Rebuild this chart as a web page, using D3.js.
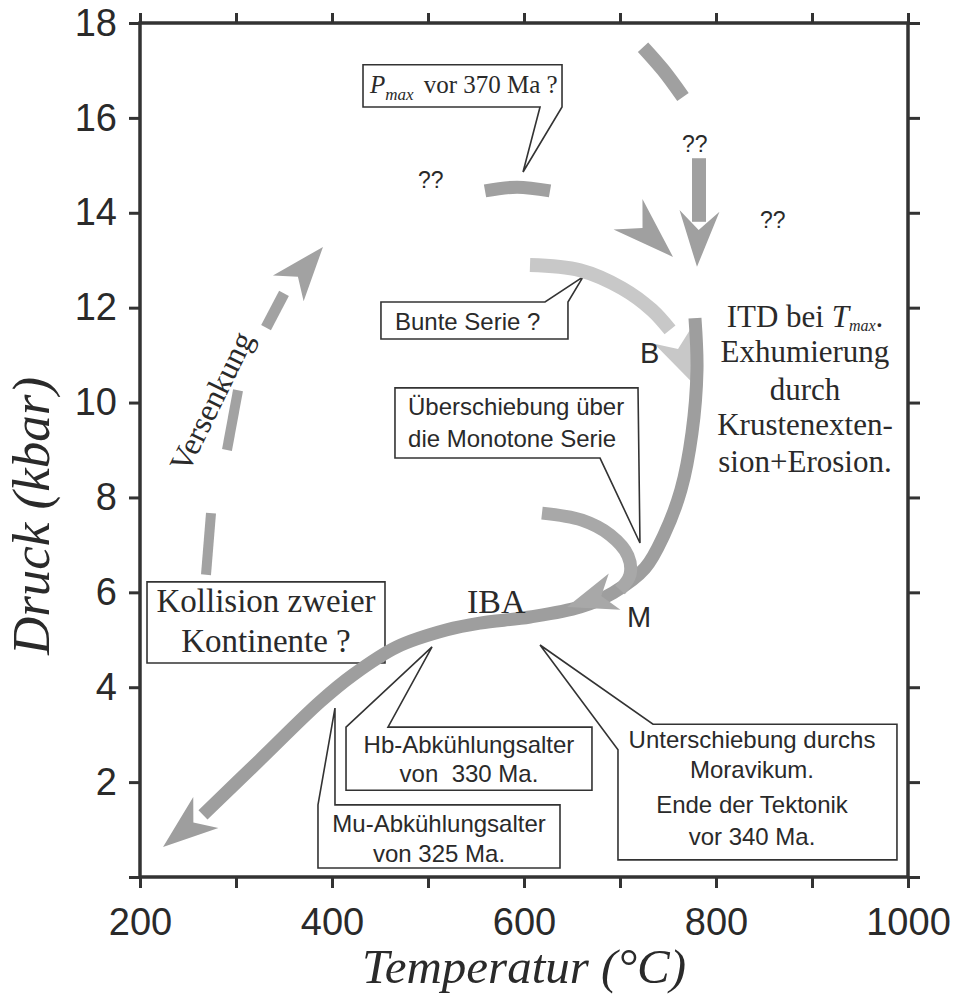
<!DOCTYPE html>
<html>
<head>
<meta charset="utf-8">
<script src="https://cdn.jsdelivr.net/npm/d3@7"></script>
<style>
body{margin:0;background:#fff}
svg{display:block}
</style>
</head>
<body>
<svg id="chart"></svg>
<script>

// axes
var tempTicks = d3.range(200, 1001, 100);
var tempLabels = [200, 400, 600, 800, 1000];
var pressTicks = d3.range(0, 19, 2);
var pressLabels = [2, 4, 6, 8, 10, 12, 14, 16, 18];

// P-T paths, [Temperatur, Druck]; last point of an arrow path = arrow tip
var exhumation = [[778.1,11.78],[780.2,10.69],[775,9.36],[763.5,8.16],[745.8,7.21],[726,6.51],
    [692.7,5.99],[658.3,5.69],[606.3,5.48],[554.2,5.35],[519.8,5.21],[467.7,4.85],[421.9,4.26],
    [387.5,3.69],[325,2.47],[265.6,1.31],[224,0.63]];
var ueberschiebung = [[618.75,7.67],[660.4,7.52],[689.6,7.21],[708.3,6.77],[710.4,6.37],[700,6.05],[644.8,5.69]];
var bunteSerie = [[606.25,12.9],[658.3,12.79],[702.1,12.41],[733.3,11.95],[752.1,11.53],[775,10.43]];
var versenkungDashes = [
    [[268.75,6.37],[273.96,7.67]],
    [[290.6,9.0],[302.1,10.26]]
];
var versenkungArrow = [[331.3,11.58],[350,12.3],[390.6,13.28]];
var pmaxDash = [[559.4,14.46],[592.7,14.54],[627.1,14.46]];
var topDash = [[724,17.49],[744.8,17.01],[765.6,16.44]];
var verticalArrow = [[782.3,15.15],[782.3,13.81],[780.2,12.86]];
var diagonalArrow = [[708.3,13.97],[755.2,13.07]];

// callout outlines
var pmaxBox = [[432.3,17.12],[639.6,17.12],[639.6,16.23],[599,14.86],[616.7,16.23],[432.3,16.23]];
var bunteBox = [[451,12.12],[621.9,12.12],[661.5,12.65],[645.8,12.12],[645.8,11.34],[451,11.34]];
var ueberBox = [[465.6,10.31],[718.75,10.31],[720.8,7.04],[679.2,8.83],[465.6,8.83]];
var kollisionBox = [[207.3,6.22],[455.2,6.22],[455.2,4.51],[207.3,4.51]];
var hbBox = [[504.2,4.85],[458.3,3.16],[670.8,3.16],[670.8,1.83],[414.6,1.83],[414.6,3.16]];
var muBox = [[403.1,3.56],[403.1,1.52],[637.5,1.52],[637.5,0.19],[385.4,0.19],[385.4,1.52]];
var unterBox = [[616.7,4.89],[734.4,3.22],[988.5,3.22],[988.5,0.36],[697.9,0.36],[697.9,2.68]];

// texts [text, T, P]
var bunteText = [["Bunte Serie ?", 465.6, 11.53]];
var ueberText = [["Überschiebung über", 479.2, 9.74], ["die Monotone Serie", 479.2, 9.06]];
var kollisionText = [["Kollision zweier", 331.25, 5.59], ["Kontinente ?", 331.25, 4.74]];
var hbText = [["Hb-Abkühlungsalter", 542.7, 2.61], ["von  330 Ma.", 542.7, 2.0]];
var muText = [["Mu-Abkühlungsalter", 511.5, 0.95], ["von 325 Ma.", 511.5, 0.32]];
var unterText = [["Unterschiebung durchs", 837.5, 2.72], ["Moravikum.", 837.5, 2.09],
    ["Ende der Tektonik", 837.5, 1.35], ["vor 340 Ma.", 837.5, 0.67]];
var itdText = [["Exhumierung", 892.7, 10.86], ["durch", 892.7, 10.05],
    ["Krustenexten-", 892.7, 9.32], ["sion+Erosion.", 892.7, 8.54]];
var itdFirst = [892.7, 11.59];
var pmaxAt = [439.6, 16.53];
var qqText = [["??", 489.6, 14.52], ["??", 764.6, 15.28], ["??", 845.8, 13.68]];
var letterText = [["B", 720.8, 10.83], ["M", 707.3, 5.27]];
var ibaText = [["IBA", 540.6, 5.56]];
var versenkungAt = [284.5, 9.92];

var serif = "'Liberation Serif','Times New Roman',serif";
var sans = "'Liberation Sans',Arial,sans-serif";
var ink = "#2a2a2a";

var svg = d3.select("#chart").attr("width", 962).attr("height", 996);
svg.append("rect").attr("width", 962).attr("height", 996).attr("fill", "#fff");

var x = d3.scaleLinear().domain([200, 1000]).range([140, 908]);
var y = d3.scaleLinear().domain([0, 18]).range([877, 23]);

var curve = d3.line()
    .x(function(d){ return x(d[0]); })
    .y(function(d){ return y(d[1]); })
    .curve(d3.curveCatmullRom.alpha(0.5));
var poly = d3.line()
    .x(function(d){ return x(d[0]); })
    .y(function(d){ return y(d[1]); })
    .curve(d3.curveLinearClosed);

// ---- axes ----
var fmtT = function(d){ return tempLabels.indexOf(d) >= 0 ? d : ""; };
var fmtP = function(d){ return pressLabels.indexOf(d) >= 0 ? d : ""; };

var axes = svg.append("g");
axes.append("g").attr("transform", "translate(0,877)")
    .call(d3.axisBottom(x).tickValues(tempTicks).tickSize(11).tickPadding(20).tickFormat(fmtT));
axes.append("g").attr("transform", "translate(0,23)")
    .call(d3.axisTop(x).tickValues(tempTicks).tickSize(10).tickFormat(""));
axes.append("g").attr("transform", "translate(140,0)")
    .call(d3.axisLeft(y).tickValues(pressTicks).tickSize(11).tickPadding(12).tickFormat(fmtP));
axes.append("g").attr("transform", "translate(908,0)")
    .call(d3.axisRight(y).tickValues(pressTicks).tickSize(12).tickFormat(""));

axes.selectAll(".domain").remove();
axes.selectAll(".tick line").attr("stroke", "#333").attr("stroke-width", 3);
axes.selectAll(".tick text").attr("fill", ink)
    .style("font-family", sans).style("font-size", "38px");

axes.append("rect")
    .attr("x", x(200)).attr("y", y(18))
    .attr("width", x(1000) - x(200)).attr("height", y(0) - y(18))
    .attr("fill", "none").attr("stroke", "#333").attr("stroke-width", 3.5);

svg.append("text")
    .attr("x", 524).attr("y", 983)
    .attr("text-anchor", "middle")
    .style("font-family", serif).style("font-style", "italic").style("font-size", "49px")
    .attr("fill", ink)
    .text("Temperatur (°C)");

svg.append("text")
    .attr("transform", "translate(49,516) rotate(-90)")
    .attr("text-anchor", "middle")
    .style("font-family", serif).style("font-style", "italic").style("font-size", "53px")
    .attr("fill", ink)
    .text("Druck (kbar)");

// ---- callout boxes ----
var boxes = svg.append("g");
[pmaxBox, bunteBox, ueberBox, kollisionBox, hbBox, muBox, unterBox].forEach(function(b){
    boxes.append("path")
        .attr("d", poly(b))
        .attr("fill", "#fff")
        .attr("stroke", "#333")
        .attr("stroke-width", 1.6)
        .attr("stroke-linejoin", "miter");
});

// ---- bands ----
var bands = svg.append("g");

var arrowHead = function(tip, back, len, hw, notch)
{
    var dx = tip[0] - back[0], dy = tip[1] - back[1];
    var n = Math.sqrt(dx*dx + dy*dy);
    dx /= n; dy /= n;
    var bx = tip[0] - dx*len, by = tip[1] - dy*len;
    var px = -dy, py = dx;
    return [
        [tip[0], tip[1]],
        [bx + px*hw, by + py*hw],
        [tip[0] - dx*(len - notch), tip[1] - dy*(len - notch)],
        [bx - px*hw, by - py*hw]
    ];
};

var drawBand = function(pts, width, color, head)
{
    var shaft = head ? pts.slice(0, -1) : pts;
    if (shaft.length > 1) {
        bands.append("path")
            .attr("d", curve(shaft))
            .attr("fill", "none")
            .attr("stroke", color)
            .attr("stroke-width", width)
            .attr("stroke-linecap", "butt");
    }
    if (head) {
        var a = pts[pts.length - 1], b = pts[pts.length - 2];
        var h = arrowHead([x(a[0]), y(a[1])], [x(b[0]), y(b[1])], head.len, head.hw, head.notch);
        bands.append("polygon")
            .attr("points", h.map(function(p){ return p.join(","); }).join(" "))
            .attr("fill", color);
    }
};

versenkungDashes.forEach(function(s){ drawBand(s, 10, "#a2a2a2"); });
drawBand(versenkungArrow, 11, "#a2a2a2", {len:54, hw:20, notch:15});
drawBand(pmaxDash, 13, "#a0a0a0");
drawBand(topDash, 14, "#a0a0a0");
drawBand(verticalArrow, 14, "#a0a0a0", {len:56, hw:20, notch:19});
drawBand(diagonalArrow, 14, "#a0a0a0", {len:62, hw:21, notch:20});
drawBand(bunteSerie, 14, "#c8c8c8", {len:50, hw:20, notch:14});
drawBand(exhumation, 13, "#9e9e9e", {len:55, hw:20, notch:16});
drawBand(ueberschiebung, 13, "#a8a8a8", {len:50, hw:19, notch:14});

// ---- texts ----
var texts = svg.append("g").attr("fill", ink);

var putLines = function(rows, family, size, anchor)
{
    rows.forEach(function(r){
        texts.append("text")
            .attr("x", x(r[1])).attr("y", y(r[2]))
            .attr("text-anchor", anchor)
            .style("font-family", family).style("font-size", size + "px")
            .style("white-space", "pre")
            .text(r[0]);
    });
};

putLines(bunteText, sans, 24, "start");
putLines(ueberText, sans, 24, "start");
putLines(kollisionText, serif, 33, "middle");
putLines(hbText, sans, 24, "middle");
putLines(muText, sans, 24, "middle");
putLines(unterText, sans, 24, "middle");
putLines(itdText, serif, 31, "middle");
putLines(qqText, sans, 23, "start");
putLines(letterText, sans, 29, "start");
putLines(ibaText, serif, 34, "start");

var itd = texts.append("text")
    .attr("x", x(itdFirst[0])).attr("y", y(itdFirst[1]))
    .attr("text-anchor", "middle")
    .style("font-family", serif).style("font-size", "31px");
itd.append("tspan").text("ITD bei ");
itd.append("tspan").style("font-style", "italic").text("T");
itd.append("tspan").style("font-style", "italic").style("font-size", "16px").attr("dy", 4).text("max");
itd.append("tspan").attr("dy", -4).text(".");

var pm = texts.append("text")
    .attr("x", x(pmaxAt[0])).attr("y", y(pmaxAt[1]))
    .style("font-family", serif).style("font-size", "25px");
pm.append("tspan").style("font-style", "italic").text("P");
pm.append("tspan").style("font-style", "italic").style("font-size", "17px").attr("dy", 7).text("max");
pm.append("tspan").attr("dy", -7).attr("dx", 10).text("vor 370 Ma ?");

texts.append("text")
    .attr("transform", "translate(" + x(versenkungAt[0]) + "," + y(versenkungAt[1]) + ") rotate(-64)")
    .attr("text-anchor", "middle")
    .style("font-family", serif).style("font-size", "32px")
    .text("Versenkung");

</script>
</body>
</html>
